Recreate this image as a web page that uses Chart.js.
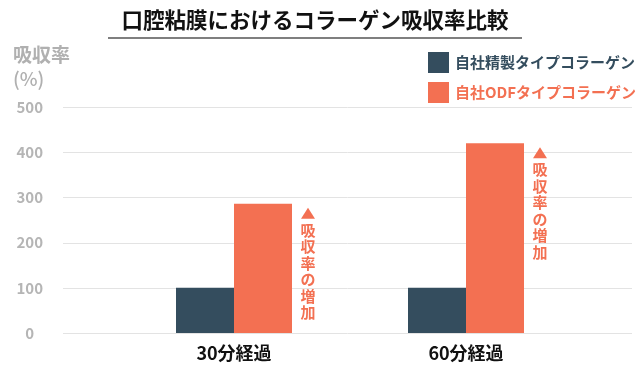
<!DOCTYPE html>
<html lang="ja">
<head>
<meta charset="UTF-8">
<title>口腔粘膜におけるコラーゲン吸収率比較</title>
<script src="https://cdn.jsdelivr.net/npm/chart.js"></script>
<style>
    body { margin: 0; background: #fff; }
    canvas { display: block; }
</style>
</head>
<body>
<canvas id="absorptionChart" width="640" height="371"></canvas>
<script>
// data
const categories = ['30分経過', '60分経過'];
const seriesNames = ['自社精製タイプコラーゲン', '自社ODFタイプコラーゲン'];
const refinedValues = [100, 100];
const odfValues = [286, 420];
const yTickStep = 100;
const yMax = 500;

const titleText = '口腔粘膜におけるコラーゲン吸収率比較';
const yTitleLines = ['吸収率', '(%)'];
const noteText = '吸収率の増加';

const colors = ['#344d5e', '#f37052'];
const FONT = '"Noto Sans CJK JP", "Noto Sans", sans-serif';

const ctx = document.getElementById('absorptionChart').getContext('2d');

// grid, title, legend and the "increase" notes are drawn by hand
const decor = {
    id: 'decor',
    beforeDatasetsDraw(chart) {
        const { ctx, scales: { y } } = chart;
        ctx.save();
        ctx.strokeStyle = '#e3e3e3';
        ctx.lineWidth = 1;
        y.ticks.forEach(t => {
            const py = Math.round(y.getPixelForValue(t.value)) + 0.5;
            ctx.beginPath();
            ctx.moveTo(63, py);
            ctx.lineTo(632, py);
            ctx.stroke();
        });
        ctx.restore();
    },
    afterDraw(chart) {
        const { ctx } = chart;
        ctx.save();

        // title + underline
        ctx.fillStyle = '#111';
        ctx.font = 'bold 21.5px ' + FONT;
        ctx.textAlign = 'center';
        ctx.textBaseline = 'middle';
        ctx.fillText(titleText, 315, 20);
        ctx.strokeStyle = '#555';
        ctx.lineWidth = 1.5;
        ctx.beginPath();
        ctx.moveTo(108, 38);
        ctx.lineTo(522, 38);
        ctx.stroke();

        // y axis title
        ctx.fillStyle = '#b0b0b0';
        ctx.font = 'bold 19px ' + FONT;
        ctx.textAlign = 'left';
        ctx.fillText(yTitleLines[0], 13, 55);
        ctx.font = '500 19px ' + FONT;
        ctx.fillText(yTitleLines[1], 13, 79);

        // legend
        ctx.font = 'bold 15px ' + FONT;
        chart.data.datasets.forEach((ds, i) => {
            const top = 52 + i * 30;
            ctx.fillStyle = ds.backgroundColor;
            ctx.fillRect(428, top, 21, 21);
            ctx.fillText(ds.label, 455, top + 10);
        });

        // notes next to the ODF bars
        const meta = chart.getDatasetMeta(1);
        ctx.fillStyle = colors[1];
        ctx.textAlign = 'center';
        ctx.textBaseline = 'top';
        ctx.font = 'bold 15px ' + FONT;
        meta.data.forEach(bar => {
            const cx = bar.x + bar.width / 2 + 16;
            const top = bar.y + 4;
            ctx.beginPath();
            ctx.moveTo(cx, top);
            ctx.lineTo(cx - 7, top + 11);
            ctx.lineTo(cx + 7, top + 11);
            ctx.closePath();
            ctx.fill();
            [...noteText].forEach((ch, k) => {
                ctx.fillText(ch, cx, top + 15 + k * 16.5);
            });
        });

        ctx.restore();
    }
};

new Chart(ctx, {
    type: 'bar',
    data: {
        labels: categories,
        datasets: [
            {
                label: seriesNames[0],
                data: refinedValues,
                backgroundColor: colors[0],
                borderWidth: 0
            },
            {
                label: seriesNames[1],
                data: odfValues,
                backgroundColor: colors[1],
                borderWidth: 0
            }
        ]
    },
    options: {
        responsive: false,
        animation: false,
        layout: {
            padding: { top: 107, left: 15, right: 58, bottom: 8 }
        },
        datasets: {
            bar: { categoryPercentage: 0.5, barPercentage: 1.0 }
        },
        plugins: {
            legend: { display: false },
            title: { display: false },
            tooltip: { enabled: false }
        },
        scales: {
            x: {
                afterFit: s => { s.height = 30; },
                grid: { display: false, drawTicks: false },
                border: { display: false },
                ticks: {
                    color: '#111',
                    padding: 9,
                    maxRotation: 0,
                    font: { family: FONT, size: 18, weight: 'bold' }
                }
            },
            y: {
                min: 0,
                max: yMax,
                // labels sit far left of the plot; don't let the big padding eat vertical space
                afterFit: s => {
                    s.width = 103;
                    s.paddingTop = 9;
                    s.paddingBottom = 9;
                },
                grid: { display: false, drawTicks: false },
                border: { display: false },
                ticks: {
                    stepSize: yTickStep,
                    crossAlign: 'center',
                    padding: 75,
                    color: '#b5b5b5',
                    font: { family: FONT, size: 15, weight: 'bold' }
                }
            }
        }
    },
    plugins: [decor]
});
</script>
</body>
</html>
